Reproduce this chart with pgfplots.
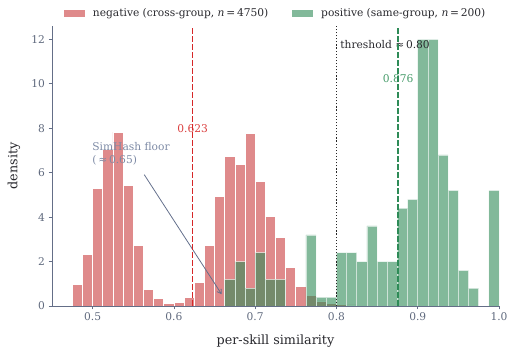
\documentclass[border=0pt]{standalone}
\usepackage{fontspec}
\setmainfont{DejaVu Serif}
\usepackage{pgfplots}
\pgfplotsset{compat=1.18}
\usetikzlibrary{arrows.meta}

\definecolor{negred}{RGB}{223,138,139}
\definecolor{posgreen}{RGB}{46,139,87}
\definecolor{linered}{RGB}{214,39,40}
\definecolor{spine}{RGB}{100,110,135}
\definecolor{ticktext}{RGB}{95,105,125}
\definecolor{labeltext}{RGB}{40,40,45}
\definecolor{annot}{RGB}{125,138,165}
\definecolor{arrowcol}{RGB}{100,112,140}

\newcommand\smallfont{\fontsize{10.7}{13}\selectfont}
\newcommand\labelfont{\fontsize{12.8}{15}\selectfont}

\pgfplotsset{
  histbar/.style={ybar, bar width=0.0125, bar shift=0pt,
    legend image code/.code={%
      \fill[##1, draw=none] (0bp,-3.5bp) rectangle (21bp,3.5bp);
      \path (27bp,0bp);}},
}

\begin{document}
\begin{tikzpicture}
\path (0,0) rectangle (514bp,354bp);
\begin{axis}[
  at={(52bp,48bp)}, anchor=south west,
  width=447bp, height=280bp, scale only axis,
  set layers, axis on top,
  xmin=0.45, xmax=1.0, ymin=0, ymax=12.6,
  axis x line*=bottom, axis y line*=left,
  axis line style={spine, line width=0.8bp},
  xtick={0.5,0.6,0.7,0.8,0.9,1.0},
  xticklabels={0.5,0.6,0.7,0.8,0.9,1.0},
  ytick={0,2,4,6,8,10,12},
  tick align=outside, major tick length=3.5bp,
  tick style={spine, line width=0.8bp},
  /pgf/number format/assume math mode=true,
  ticklabel style={font=\smallfont, text=ticktext},
  xlabel={per-skill similarity},
  ylabel={density},
  every axis x label/.style={at={([yshift=-35bp]axis description cs:0.5,0)},
    anchor=center, font=\labelfont, text=labeltext},
  every axis y label/.style={at={([xshift=-38bp]axis description cs:0,0.5)},
    rotate=90, anchor=center, font=\labelfont, text=labeltext},
  legend style={at={(0.5,1)}, anchor=south, yshift=4bp, draw=none, fill=none,
    font=\smallfont, text=labeltext, legend columns=2,
    /tikz/every even column/.append style={column sep=21.5bp}},
  clip=false,
]

% cross-group pairs (n = 4750), density per 0.0125-wide bin
\addplot[histbar, fill=negred, draw=white, line width=0.7bp] coordinates {
  (0.48125,0.96) (0.49375,2.31) (0.50625,5.29) (0.51875,7.04) (0.53125,7.82)
  (0.54375,5.43) (0.55625,2.74) (0.56875,0.74) (0.58125,0.33) (0.59375,0.12)
  (0.60625,0.15) (0.61875,0.39) (0.63125,1.05) (0.64375,2.71) (0.65625,4.92)
  (0.66875,6.74) (0.68125,6.36) (0.69375,7.76) (0.70625,5.59) (0.71875,4.03)
  (0.73125,3.08) (0.74375,1.73) (0.75625,0.87) (0.76875,0.47) (0.78125,0.23)
  (0.79375,0.10) (0.80625,0.07) (0.81875,0.05) (0.83125,0.03)
};
\addlegendentry{negative (cross-group, \textit{n}\,=\,4750)}

% same-group pairs (n = 200)
\addplot[histbar, fill=posgreen, draw=white, line width=0.7bp, opacity=0.6] coordinates {
  (0.66875,1.2) (0.68125,2.0) (0.69375,0.8) (0.70625,2.4) (0.71875,1.2)
  (0.73125,1.2) (0.76875,3.2) (0.78125,0.4) (0.79375,0.4) (0.80625,2.4)
  (0.81875,2.4) (0.83125,2.0) (0.84375,3.6) (0.85625,2.0) (0.86875,2.0)
  (0.88125,4.4) (0.89375,4.8) (0.90625,12.0) (0.91875,12.0) (0.93125,6.8)
  (0.94375,5.2) (0.95625,1.6) (0.96875,0.8) (0.99375,5.2)
};
\addlegendentry{positive (same-group, \textit{n}\,=\,200)}

% mean of each group and the decision threshold
\addplot[linered, line width=1.6bp, dash pattern=on 5.5bp off 2.5bp,
  on layer=axis foreground, forget plot] coordinates {(0.623,0) (0.623,12.6)};
\addplot[posgreen, line width=1.6bp, dash pattern=on 5.5bp off 2.5bp,
  on layer=axis foreground, forget plot] coordinates {(0.876,0) (0.876,12.6)};
\addplot[black!85, line width=1.2bp, dash pattern=on 1.2bp off 1.9bp,
  on layer=axis foreground, forget plot] coordinates {(0.80,0) (0.80,12.6)};

\node[font=\smallfont, text=linered!90!white] at (axis cs:0.623,8.0) {0.623};
\node[font=\smallfont, text={rgb,255:red,70;green,155;blue,105}] at (axis cs:0.876,10.25) {0.876};
\node[font=\smallfont, text=labeltext, anchor=west] at (axis cs:0.8005,11.77) {threshold ≈\,0.80};
\node[font=\smallfont, text=annot, anchor=west, align=left, inner sep=0pt]
  at (axis cs:0.4995,6.83) {SimHash floor\\(\,≈\,0.65)};
\draw[arrowcol, line width=0.8bp, -{Straight Barb[length=4bp,width=5bp]}]
  (axis cs:0.5635,5.91) -- (axis cs:0.6587,0.53);
\end{axis}
\end{tikzpicture}
\end{document}
